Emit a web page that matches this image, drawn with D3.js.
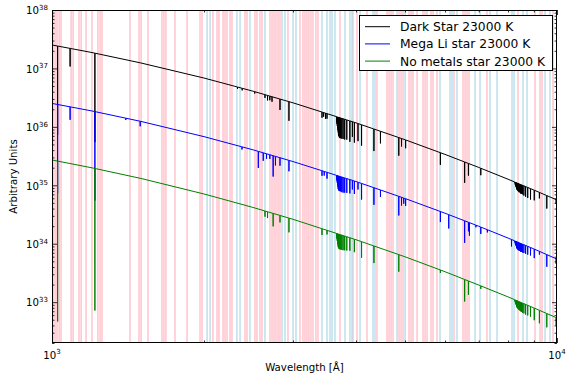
<!DOCTYPE html>
<html><head><meta charset="utf-8">
<script src="https://cdn.jsdelivr.net/npm/d3@7"></script>
<style>
body{margin:0;background:#fff}
svg text{font-family:"DejaVu Sans",sans-serif;fill:#000}
</style>
</head><body>
<svg id="c" width="568" height="375"></svg>
<script>
// ---------------- DATA ----------------
const seriesNames = ["Dark Star 23000 K", "Mega Li star 23000 K", "No metals star 23000 K"];
const continuumWl = [1000,1200,1500,2000,2500,3000,4000,5000,6000,7000,8000,9000,10000];
const darkStarFlux = [2.52e37,1.87e37,1.24e37,6.85e36,4.08e36,2.58e36,1.17e36,6.03e35,3.38e35,2.02e35,1.27e35,8.3e34,5.6e34];
const megaLiFlux   = [2.52e36,1.87e36,1.24e36,6.8e35,4.05e35,2.55e35,1.16e35,5.95e34,3.33e34,1.99e34,1.25e34,8.15e33,5.45e33];
const noMetalsFlux = [2.71e35,1.99e35,1.31e35,7.1e34,4.18e34,2.62e34,1.17e34,5.98e33,3.32e33,1.96e33,1.23e33,7.97e32,5.36e32];

// absorption lines: [wavelength (Å), minimum / continuum]
const darkStarLines = [[1026,0.03],[1086,0.49],[1216,0.03],[2330,0.93],[2380,0.92],[2520,0.93],
 [2641,0.88],[2672,0.82],[2700,0.85],[2727,0.82],[2828,0.65],[2946,0.47],
 [3425,0.8],[3450,0.85],[3480,0.8],[3504,0.82],
 [3662,0.8],[3668,0.75],[3672,0.7],[3676,0.65],[3683,0.6],[3687,0.55],[3692,0.5],[3697,0.48],[3704,0.46],
 [3712,0.45],[3722,0.45],[3734,0.45],[3750,0.45],[3771,0.45],[3798,0.45],[3835,0.46],[3889,0.44],[3934,0.55],
 [3970,0.45],[4036,0.5],[4102,0.44],[4340,0.42],[4471,0.62],[4861,0.49],[4922,0.73],[5015,0.72],
 [5876,0.62],[6563,0.44],[6678,0.62],[7065,0.76],
 [8251,0.95],[8269,0.9],[8287,0.86],[8299,0.83],[8315,0.8],[8324,0.78],[8334,0.77],[8346,0.76],[8360,0.75],
 [8375,0.74],[8392,0.73],[8413,0.72],[8438,0.72],[8467,0.7],[8502,0.7],[8545,0.7],[8598,0.68],[8665,0.67],
 [8750,0.66],[8863,0.65],[9015,0.67],[9229,0.79],[9546,0.6],[9960,0.85]];
const megaLiLines = [[1026,0.03],[1086,0.6],[1216,0.03],[1400,0.93],[1495,0.82],
 [2378,0.9],[2562,0.52],[2620,0.73],[2660,0.82],[2700,0.85],[2741,0.44],[2770,0.7],[2828,0.73],[2946,0.65],
 [3425,0.82],[3460,0.85],[3504,0.78],
 [3662,0.85],[3668,0.8],[3672,0.75],[3676,0.7],[3683,0.65],[3687,0.6],[3692,0.58],[3697,0.57],[3704,0.56],
 [3712,0.56],[3722,0.56],[3734,0.56],[3750,0.55],[3771,0.55],[3798,0.56],[3835,0.57],[3889,0.58],[3934,0.7],
 [3970,0.6],[4036,0.75],[4102,0.53],[4340,0.51],[4471,0.76],[4861,0.47],[4922,0.72],[4972,0.8],[5015,0.75],
 [5876,0.66],[6104,0.58],[6563,0.42],[6678,0.7],[6708,0.6],[6910,0.92],[7065,0.76],[7280,0.9],
 [8126,0.76],[8251,0.94],[8269,0.9],[8287,0.86],[8299,0.83],[8315,0.8],[8324,0.78],[8334,0.77],[8346,0.76],
 [8360,0.75],[8375,0.74],[8392,0.74],[8413,0.73],[8438,0.73],[8467,0.72],[8502,0.72],[8545,0.72],[8598,0.72],
 [8665,0.72],[8750,0.72],[8863,0.73],[9015,0.7],[9229,0.88],[9546,0.62],[9960,0.82]];
const noMetalsLines = [[1026,1.8e-3],[1216,3.7e-3],
 [2641,0.8],[2672,0.78],[2741,0.6],[2828,0.76],[2946,0.57],[3425,0.78],[3504,0.85],
 [3662,0.85],[3668,0.8],[3672,0.75],[3676,0.7],[3683,0.65],[3687,0.6],[3692,0.58],[3697,0.57],[3704,0.56],
 [3712,0.56],[3722,0.56],[3734,0.56],[3750,0.56],[3771,0.56],[3798,0.57],[3835,0.58],[3889,0.6],
 [3970,0.6],[4102,0.53],[4340,0.51],[4861,0.51],
 [5876,0.89],[6563,0.42],[6678,0.58],[7065,0.89],
 [8251,0.94],[8269,0.9],[8287,0.86],[8299,0.83],[8315,0.8],[8324,0.78],[8334,0.77],[8346,0.76],[8360,0.75],
 [8375,0.74],[8392,0.73],[8413,0.72],[8438,0.71],[8467,0.7],[8502,0.69],[8545,0.68],[8598,0.68],[8665,0.67],
 [8750,0.67],[8863,0.67],[9015,0.62],[9229,0.6],[9546,0.58],[9960,0.73]];

// background marker lines (Å)
const pinkLinesWl = [1005,1014,1023,1033,1042,1091,1101,1131,1142,1168,1200,1233,1245,1256,1427,1487,1501,1549,
 1651,1666,1681,1752,1851,1964,1982,2083,2122,2141,2181,2201,2221,2252,2272,2411,2433,2523,2546,2581,2605,
 2702,2727,2752,2777,2803,2828,2933,3098,3140,3169,3198,3227,3257,3287,3332,3363,3718,3945,4017,4205,4401,
 4607,4649,4692,4735,4866,4911,4956,5093,5140,5187,5283,5429,5479,5529,5630,5682,5786,6253,6515,6575,6635,
 6696,7267,8372,9046,9255,9340,9820];
const blueLinesWl = [2028,2056,2324,2357,2466,2641,2854,2893,3001,3042,3425,3504,3552,3585,3634,3804,3891,3927,
 4073,4322,4361,4822,5002,5866,6140,6196,6338,6882,7040,7368,7607,8146,8221,8565,8722,9469,9686];

const xMajor = [1000, 10000];
const xMinor = [2000,3000,4000,5000,6000,7000,8000,9000];
const yMajorExp = [33,34,35,36,37,38];
const xTitle = "Wavelength [Å]";
const yTitle = "Arbitrary Units";
const colors = ["#000000", "#0000ff", "#008000"];

// ---------------- CHART ----------------
const svg = d3.select("#c");
const L = 52, R = 557, T = 10, B = 343;
const x = d3.scaleLog().domain([1000, 10000]).range([L, R]);
const y = d3.scaleLog().domain([2e32, 1e38]).range([B, T]);

svg.append("defs").append("clipPath").attr("id","clip")
  .append("rect").attr("x",L).attr("y",T).attr("width",R-L).attr("height",B-T);
const plot = svg.append("g").attr("clip-path","url(#clip)");

plot.selectAll("line.pk").data(pinkLinesWl).enter().append("line")
  .attr("x1",d=>x(d)).attr("x2",d=>x(d)).attr("y1",T).attr("y2",B)
  .attr("stroke","#ffb6c1").attr("stroke-width",1.2);
plot.selectAll("line.lb").data(blueLinesWl).enter().append("line")
  .attr("x1",d=>x(d)).attr("x2",d=>x(d)).attr("y1",T).attr("y2",B)
  .attr("stroke","#add8e6").attr("stroke-width",1.2);

function contAt(flux, w){
  const i = Math.max(0, Math.min(continuumWl.length-2, d3.bisectRight(continuumWl, w)-1));
  const a = Math.log(continuumWl[i]), b = Math.log(continuumWl[i+1]);
  const t = (Math.log(w)-a)/(b-a);
  return Math.exp(Math.log(flux[i]) + t*(Math.log(flux[i+1])-Math.log(flux[i])));
}
function spectrum(flux, lines){
  const pts = continuumWl.map((w,i)=>[w, flux[i]]);
  const hw = 0.0004;
  lines.forEach(([w,r])=>{
    pts.push([w*(1-hw), contAt(flux, w*(1-hw))]);
    pts.push([w, contAt(flux, w)*r]);
    pts.push([w*(1+hw), contAt(flux, w*(1+hw))]);
  });
  pts.sort((a,b)=>a[0]-b[0]);
  return pts;
}
const lineGen = d3.line().x(d=>x(d[0])).y(d=>y(d[1]));
[[darkStarFlux,darkStarLines],[megaLiFlux,megaLiLines],[noMetalsFlux,noMetalsLines]].forEach(([f,l],k)=>{
  plot.append("path").datum(spectrum(f,l)).attr("d",lineGen)
    .attr("fill","none").attr("stroke",colors[k]).attr("stroke-width",1).attr("stroke-linejoin","miter");
});

// axes (ticks inward on all sides)
const yMinor = [];
yMajorExp.concat([32]).forEach(e=>{ for(let k=2;k<=9;k++){ const v=k*Math.pow(10,e); if(v>=2e32 && v<1e38) yMinor.push(v);} });
const yMajor = yMajorExp.map(e=>Math.pow(10,e));
function ax(gen, scale, vals, size, tr){
  const g = svg.append("g").attr("transform",tr)
    .call(gen(scale).tickValues(vals).tickSize(size).tickFormat(""));
  g.select(".domain").remove();
  g.selectAll(".tick line").attr("stroke","#000").attr("stroke-width",0.8);
  g.selectAll("text").remove();
  return g;
}
ax(d3.axisBottom, x, xMajor, -5, `translate(0,${B})`);
ax(d3.axisBottom, x, xMinor, -2.5, `translate(0,${B})`);
ax(d3.axisTop, x, xMajor, -5, `translate(0,${T})`);
ax(d3.axisTop, x, xMinor, -2.5, `translate(0,${T})`);
ax(d3.axisLeft, y, yMajor, -5, `translate(${L},0)`);
ax(d3.axisLeft, y, yMinor, -2.5, `translate(${L},0)`);
ax(d3.axisRight, y, yMajor, -5, `translate(${R},0)`);
ax(d3.axisRight, y, yMinor, -2.5, `translate(${R},0)`);

svg.append("rect").attr("x",L+0.5).attr("y",T+0.5).attr("width",R-L-1).attr("height",B-T-1)
  .attr("fill","none").attr("stroke","#000").attr("stroke-width",1);

// tick labels with superscripts
xMajor.forEach(v=>{
  const t = svg.append("text").attr("x",x(v)).attr("y",B+15.5).attr("text-anchor","middle").style("font-size","10.2px");
  t.append("tspan").text("10");
  t.append("tspan").attr("dy",-4.5).style("font-size","7px").text(Math.round(Math.log10(v)));
});
yMajorExp.forEach(e=>{
  const t = svg.append("text").attr("x",L-4).attr("y",y(Math.pow(10,e))+4.3).attr("text-anchor","end").style("font-size","10.2px");
  t.append("tspan").text("10");
  t.append("tspan").attr("dy",-4.5).style("font-size","7px").text(e);
});

svg.append("text").attr("x",(L+R)/2).attr("y",371).attr("text-anchor","middle").style("font-size","10.2px").text(xTitle);
svg.append("text").attr("transform",`translate(17,${(T+B)/2}) rotate(-90)`).attr("text-anchor","middle").style("font-size","10.2px").text(yTitle);

// legend
const lg = svg.append("g");
lg.append("rect").attr("x",359.5).attr("y",15.5).attr("width",193).attr("height",55)
  .attr("fill","#fff").attr("stroke","#000").attr("stroke-width",1);
seriesNames.forEach((n,i)=>{
  const cy = 26.7 + i*17.2;
  lg.append("line").attr("x1",365).attr("x2",390).attr("y1",cy).attr("y2",cy).attr("stroke",colors[i]).attr("stroke-width",1);
  lg.append("text").attr("x",400).attr("y",cy+4.4).style("font-size","12.3px").text(n);
});
</script>
</body></html>
